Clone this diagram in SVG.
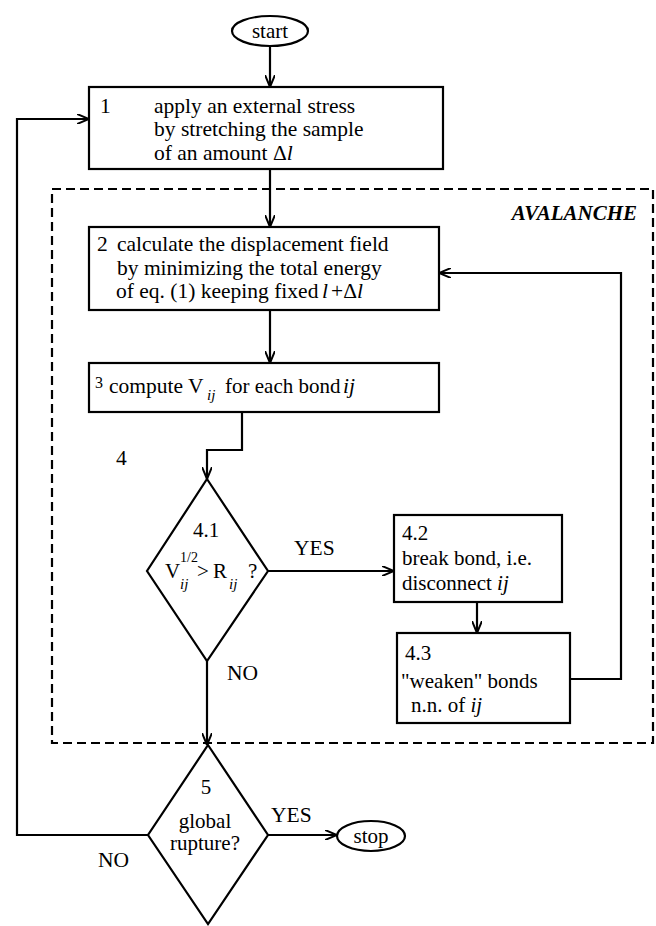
<svg xmlns="http://www.w3.org/2000/svg" width="656" height="926" viewBox="0 0 656 926" font-family="'Liberation Serif', 'DejaVu Serif', serif">
<style>
text{font-family:'Liberation Serif','DejaVu Serif',serif;font-size:21.5px;fill:#000}
.it{font-style:italic}
.sm{font-size:15px}
.node{fill:#fff;stroke:#000;stroke-width:2.2}
.ln{fill:none;stroke:#000;stroke-width:2.2}
.dash{fill:none;stroke:#000;stroke-width:2.2;stroke-dasharray:9 5}
.mid{text-anchor:middle}
</style>
<defs>
<marker id="arr" viewBox="0 0 12 10" refX="12" refY="5" markerWidth="12" markerHeight="10" markerUnits="userSpaceOnUse" orient="auto">
<path d="M0,0 L12,5 L0,10" fill="none" stroke="#000" stroke-width="2"/>
</marker>
</defs>
<rect width="656" height="926" fill="#fff"/>

<g id="avalanche">
<rect class="dash" x="52" y="189" width="601" height="554"/>
<text x="637" y="220" style="text-anchor:end;font-weight:bold;font-style:italic;font-size:21px">AVALANCHE</text>
</g>

<g id="connectors">
<line class="ln" x1="270" y1="46" x2="270" y2="87" marker-end="url(#arr)"/>
<line class="ln" x1="270" y1="169" x2="270" y2="227" marker-end="url(#arr)"/>
<line class="ln" x1="270" y1="310" x2="270" y2="363" marker-end="url(#arr)"/>
<polyline class="ln" points="242,412 242,450 207,450 207,479" marker-end="url(#arr)"/>
<line class="ln" x1="268" y1="571" x2="394" y2="571" marker-end="url(#arr)"/>
<line class="ln" x1="477" y1="602" x2="477" y2="633" marker-end="url(#arr)"/>
<polyline class="ln" points="570,679 621,679 621,273 439,273" marker-end="url(#arr)"/>
<line class="ln" x1="207" y1="661" x2="207" y2="745" marker-end="url(#arr)"/>
<line class="ln" x1="268" y1="835" x2="337" y2="835" marker-end="url(#arr)"/>
<polyline class="ln" points="148,835 17,835 17,119 89,119" marker-end="url(#arr)"/>
<text x="294" y="555">YES</text>
<text x="227" y="680">NO</text>
<text x="271" y="822">YES</text>
<text x="98" y="867">NO</text>
</g>

<g id="start">
<ellipse class="node" cx="270" cy="31" rx="38" ry="15"/>
<text class="mid" x="270" y="38" style="font-size:21px">start</text>
</g>

<g id="step1">
<rect class="node" x="89" y="87" width="354" height="82"/>
<text x="100" y="113">1</text>
<text x="154" y="113">apply an external stress</text>
<text x="154" y="136">by stretching the sample</text>
<text x="154" y="160">of an amount <tspan x="273">Δ</tspan><tspan class="it">l</tspan></text>
</g>

<g id="step2">
<rect class="node" x="89" y="227" width="350" height="83"/>
<text x="97" y="251">2</text>
<text x="117" y="251">calculate the displacement field</text>
<text x="117" y="275">by minimizing the total energy</text>
<text x="116" y="298">of eq. (1) keeping fixed <tspan class="it" x="322">l</tspan><tspan x="331">+Δ</tspan><tspan class="it">l</tspan></text>
</g>

<g id="step3">
<rect class="node" x="89" y="363" width="350" height="49"/>
<text x="95" y="388" style="font-size:16px">3</text>
<text x="109" y="393">compute V</text>
<text class="it sm" x="207" y="400">ij</text>
<text x="225" y="393" style="font-size:21px">for each bond</text>
<text class="it" x="343" y="393">ij</text>
</g>

<g id="label4">
<text x="116" y="465">4</text>
</g>

<g id="step4_1">
<polygon class="node" points="207,479 268,571 207,661 147,571"/>
<text class="mid" x="206" y="537" style="font-size:21px">4.1</text>
<text x="165" y="578" style="font-size:21px">V</text>
<text x="180" y="562" style="font-size:14px">1/2</text>
<text class="it sm" x="180" y="589">ij</text>
<text x="197" y="578" style="font-size:21px">&gt;</text>
<text x="213" y="578" style="font-size:21px">R</text>
<text class="it sm" x="229" y="589">ij</text>
<text x="248" y="578" style="font-size:21px">?</text>
</g>

<g id="step4_2">
<rect class="node" x="394" y="515" width="168" height="87"/>
<text x="402" y="540" style="font-size:21px">4.2</text>
<text x="402" y="565" style="font-size:21px">break bond, i.e.</text>
<text x="402" y="590" style="font-size:21px">disconnect <tspan class="it">ij</tspan></text>
</g>

<g id="step4_3">
<rect class="node" x="397" y="633" width="173" height="90"/>
<text x="405" y="660" style="font-size:21px">4.3</text>
<text x="401" y="688" style="font-size:21px">"weaken" bonds</text>
<text x="411" y="712" style="font-size:21px">n.n. of <tspan class="it">ij</tspan></text>
</g>

<g id="step5">
<polygon class="node" points="208,745 268,835 208,924 148,835"/>
<text class="mid" x="206" y="794" style="font-size:21px">5</text>
<text class="mid" x="205" y="828" style="font-size:21px">global</text>
<text class="mid" x="205" y="850" style="font-size:21px">rupture?</text>
</g>

<g id="stop">
<ellipse class="node" cx="371" cy="836" rx="34" ry="15"/>
<text class="mid" x="371" y="843" style="font-size:21px">stop</text>
</g>
</svg>
